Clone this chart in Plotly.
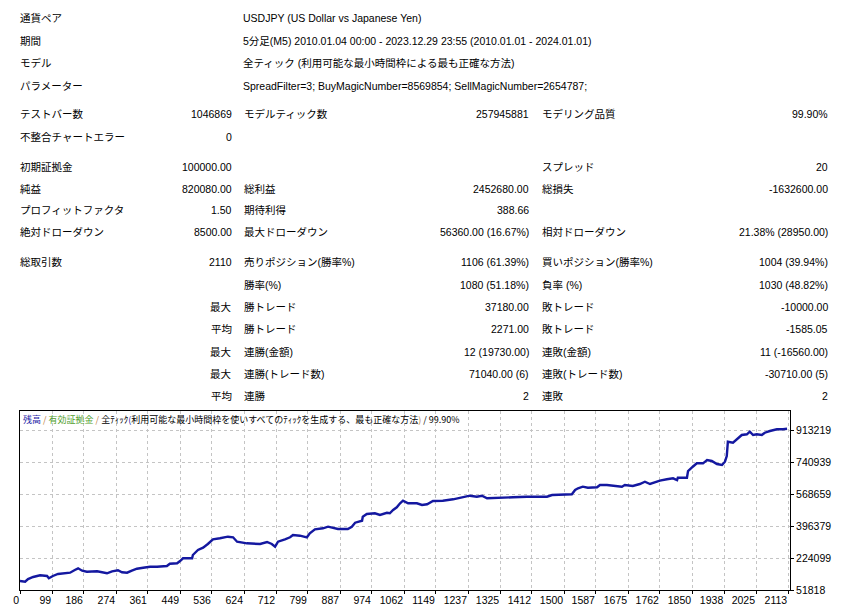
import plotly.graph_objects as go

# report header
header_labels = ["通貨ペア", "期間", "モデル", "パラメーター"]
header_values = [
    "USDJPY (US Dollar vs Japanese Yen)",
    "5分足(M5) 2010.01.04 00:00 - 2023.12.29 23:55 (2010.01.01 - 2024.01.01)",
    "全ティック (利用可能な最小時間枠による最も正確な方法)",
    "SpreadFilter=3; BuyMagicNumber=8569854; SellMagicNumber=2654787;",
]

# stats table: label, value, label, value, label, value
stat_rows = [
    ["テストバー数", "1046869", "モデルティック数", "257945881", "モデリング品質", "99.90%"],
    ["不整合チャートエラー", "0", "", "", "", ""],
    ["初期証拠金", "100000.00", "", "", "スプレッド", "20"],
    ["純益", "820080.00", "総利益", "2452680.00", "総損失", "-1632600.00"],
    ["プロフィットファクタ", "1.50", "期待利得", "388.66", "", ""],
    ["絶対ドローダウン", "8500.00", "最大ドローダウン", "56360.00 (16.67%)", "相対ドローダウン", "21.38% (28950.00)"],
    ["総取引数", "2110", "売りポジション(勝率%)", "1106 (61.39%)", "買いポジション(勝率%)", "1004 (39.94%)"],
    ["", "", "勝率(%)", "1080 (51.18%)", "負率 (%)", "1030 (48.82%)"],
    ["", "最大", "勝トレード", "37180.00", "敗トレード", "-10000.00"],
    ["", "平均", "勝トレード", "2271.00", "敗トレード", "-1585.05"],
    ["", "最大", "連勝(金額)", "12 (19730.00)", "連敗(金額)", "11 (-16560.00)"],
    ["", "最大", "連勝(トレード数)", "71040.00 (6)", "連敗(トレード数)", "-30710.00 (5)"],
    ["", "平均", "連勝", "2", "連敗", "2"],
]

# balance curve (trade number, balance)
trades = [11, 25, 33, 47, 66, 85, 90, 101, 115, 129, 148, 161, 170, 181, 194, 222,
          238, 249, 263, 279, 290, 304, 317, 331, 348, 367, 386, 413, 421, 441, 449,
          457, 482, 484, 498, 512, 525, 539, 558, 580, 594, 605, 632, 668, 687, 700,
          709, 717, 736, 750, 758, 777, 796, 804, 818, 840, 854, 881, 908, 919, 928,
          947, 949, 960, 982, 996, 1015, 1023, 1032, 1042, 1051, 1059, 1073, 1097,
          1111, 1125, 1141, 1168, 1196, 1220, 1242, 1261, 1275, 1289, 1316, 1360,
          1398, 1453, 1467, 1497, 1516, 1521, 1530, 1538, 1551, 1565, 1590, 1598,
          1617, 1639, 1658, 1666, 1688, 1707, 1721, 1735, 1748, 1762, 1781, 1798,
          1809, 1811, 1836, 1839, 1852, 1863, 1880, 1891, 1904, 1918, 1932, 1940,
          1945, 1948, 1962, 1973, 1986, 2000, 2008, 2017, 2027, 2041, 2049, 2063,
          2082, 2099, 2110]
balance = [100000, 96500, 111000, 121800, 131000, 127200, 114800, 127200, 138000,
           141700, 145000, 159500, 168600, 155700, 150300, 152500, 147100, 141700,
           152500, 157900, 147100, 145000, 155700, 166500, 171900, 177300, 177300,
           181000, 193400, 195600, 207900, 222500, 222500, 240200, 267200, 279600,
           299500, 324800, 330200, 338800, 335500, 311900, 303200, 299500, 310200,
           299500, 284900, 311900, 324800, 335500, 347900, 344200, 335500, 357100,
           378600, 384000, 392600, 380200, 380200, 392600, 414100, 424900, 446400,
           461000, 464800, 455600, 467400, 464800, 482500, 497100, 518600, 532600,
           518600, 518600, 509400, 513200, 531000, 532600, 540100, 550900, 559500,
           554100, 559500, 545500, 548700, 550900, 554100, 554100, 563300, 563300,
           567000, 567000, 590200, 599300, 608000, 602600, 604700, 617100, 617100,
           613300, 608000, 617100, 611700, 622500, 634900, 622500, 631600, 640300,
           647800, 653200, 644000, 656400, 656400, 692500, 715600, 733900, 733900,
           751700, 746300, 730200, 724800, 742600, 773200, 850200, 844800, 863100,
           886300, 890100, 904100, 886300, 890100, 886300, 898700, 907800, 917000,
           917000, 920080]

x_ticks = [0, 99, 186, 274, 361, 449, 536, 624, 712, 799, 887, 974, 1062, 1149,
           1237, 1325, 1412, 1500, 1587, 1675, 1762, 1850, 1938, 2025, 2113]
y_ticks = [51818, 224099, 396379, 568659, 740939, 913219]

legend_parts = [("残高", "#1a1aa6"), (" / ", "#c08040"), ("有効証拠金", "#4f9e2a"),
                (" / ", "#c08040"), ("全ﾃｨｯｸ", "#000000"), ("(", "#1a1aa6"),
                ("利用可能な最小時間枠を使いすべてのﾃｨｯｸを生成する、最も正確な方法", "#000000"),
                (")", "#c08040"), (" / 99.90%", "#000000")]

# page geometry (pixels)
W, H = 852, 610
L, R, T, B = 20, 790, 411, 590
x_start, x_end = 11, 2118
y_top = 1015507

FONT = "Liberation Sans, Noto Sans CJK JP, sans-serif"


def fx(p):
    return (p - L) / (R - L)


def fy(p):
    return (B - p) / (B - T)


annotations = []


def add_text(x, y, text, anchor, size=10.5):
    annotations.append(dict(x=fx(x), y=fy(y), xref="paper", yref="paper", text=text,
                            showarrow=False, xanchor=anchor, yanchor="middle",
                            font=dict(family=FONT, size=size, color="#000000")))


header_y = [18, 41, 63, 86]
for lab, val, yy in zip(header_labels, header_values, header_y):
    add_text(18, yy, lab, "left")
    add_text(241, yy, val, "left")

row_y = [114, 137, 167, 189, 210, 232, 262, 285, 307, 329, 352, 374, 396]
col_x = [(18, "left"), (234, "right"), (242, "left"), (531, "right"), (540, "left"), (830, "right")]
for row, yy in zip(stat_rows, row_y):
    for cell, (xx, anc) in zip(row, col_x):
        if cell:
            add_text(xx, yy, cell, anc)

legend_html = "".join('<span style="color:%s">%s</span>' % (c, t) for t, c in legend_parts)
annotations.append(dict(x=fx(21), y=fy(419), xref="paper", yref="paper", text=legend_html,
                        showarrow=False, xanchor="left", yanchor="middle",
                        font=dict(family="Noto Sans CJK JP, sans-serif", size=9)))

fig = go.Figure()
fig.add_trace(go.Scatter(x=trades, y=balance, mode="lines",
                         line=dict(color="#1418a0", width=2.4), hoverinfo="skip"))

tick_pos = [x_start] + x_ticks[1:]
axis_common = dict(showgrid=True, gridcolor="#c4c4c4", griddash="3px,3px", gridwidth=1,
                   showline=True, mirror=True, linecolor="black", linewidth=1,
                   ticks="outside", ticklen=3, tickcolor="black", zeroline=False,
                   automargin=False, tickangle=0,
                   tickfont=dict(family="Liberation Sans", size=10.5, color="black"))
fig.update_layout(
    width=W, height=H,
    margin=dict(l=L, r=W - R, t=T, b=H - B, autoexpand=False),
    paper_bgcolor="white", plot_bgcolor="white",
    showlegend=False,
    annotations=annotations,
    xaxis=dict(range=[x_start, x_end], tickvals=tick_pos, ticktext=[str(v) for v in x_ticks],
               ticklabelposition="outside left", **axis_common),
    yaxis=dict(range=[y_ticks[0], y_top], tickvals=y_ticks, ticktext=[str(v) for v in y_ticks],
               side="right", **axis_common),
)

# drop the page's default body margin so the figure sits at the window origin
fig.write_html("out.html", config={"displayModeBar": False},
               post_script="document.body.style.margin='0px';")
